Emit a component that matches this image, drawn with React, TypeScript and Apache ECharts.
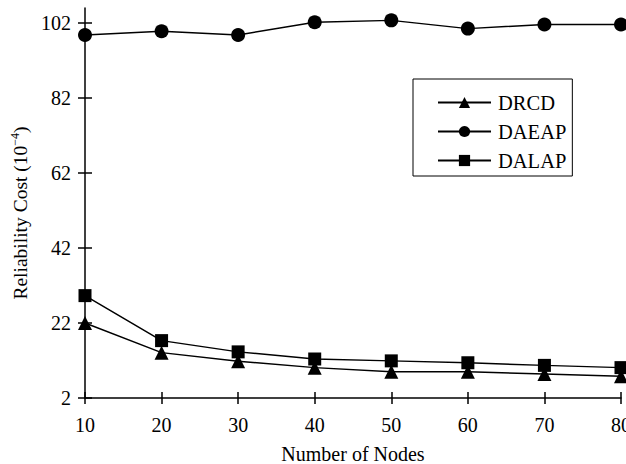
import React, { useEffect, useRef } from "react";
import * as echarts from "echarts";

const nodes = [10, 20, 30, 40, 50, 60, 70, 80];
const drcd = [22.0, 14.1, 11.8, 10.1, 9.0, 9.0, 8.4, 7.8];
const daeap = [98.8, 99.8, 98.8, 102.2, 102.7, 100.5, 101.6, 101.6];
const dalap = [29.3, 17.3, 14.3, 12.4, 11.9, 11.4, 10.7, 10.1];
const yTicks = [2, 22, 42, 62, 82, 102];

const FONT = '"Liberation Serif", "Times New Roman", serif';

export default function App() {
  const ref = useRef<HTMLDivElement>(null);
  useEffect(() => {
    if (!ref.current) return;
    const chart = echarts.init(ref.current, null, { renderer: "svg" });
    const pair = (arr: number[]) => nodes.map((n, i) => [n, arr[i]]);
    const mk = (name: string, data: number[], symbol: string, size: number) => ({
      name,
      type: "line",
      data: pair(data),
      symbol,
      symbolSize: size,
      xAxisIndex: 0,
      yAxisIndex: 0,
      lineStyle: { color: "#000", width: 1.5 },
      itemStyle: { color: "#000" },
    });
    chart.setOption({
      animation: false,
      backgroundColor: "#fff",
      textStyle: { fontFamily: FONT, color: "#000" },
      grid: { left: 85, right: 5, top: 8, bottom: 66, containLabel: false, outerBoundsMode: "none" },
      legend: {
        orient: "vertical",
        left: 413,
        top: 79,
        padding: [13, 6, 5, 24],
        itemGap: 8,
        itemWidth: 53,
        itemHeight: 14,
        borderColor: "#000",
        borderWidth: 1,
        textStyle: { fontFamily: FONT, fontSize: 20.5, lineHeight: 20, color: "#000", padding: [0, 0, 0, 2] },
        data: ["DRCD", "DAEAP", "DALAP"],
      },
      xAxis: [
        {
          type: "value",
          min: 10,
          max: 80,
          interval: 10,
          name: "Number of Nodes",
          nameLocation: "middle",
          nameGap: 46,
          nameTextStyle: { fontFamily: FONT, fontSize: 20, color: "#000" },
          axisLine: { onZero: false, lineStyle: { color: "#000", width: 1.5 } },
          axisTick: { show: true, inside: false, length: 6, lineStyle: { color: "#000", width: 1.5 } },
          axisLabel: { fontFamily: FONT, fontSize: 20, color: "#000", margin: 17 },
          splitLine: { show: false },
        },
        {
          type: "value",
          min: 10,
          max: 80,
          interval: 10,
          position: "bottom",
          axisLine: { show: false },
          axisTick: { show: true, inside: true, length: 6, lineStyle: { color: "#000", width: 1.5 } },
          axisLabel: { show: false },
          splitLine: { show: false },
        },
      ],
      yAxis: [
        {
          type: "value",
          min: 2,
          max: 106,
          name: "{a|Reliability Cost (10}{s|−4}{a|)}",
          nameLocation: "middle",
          nameGap: 52,
          nameTextStyle: {
            fontFamily: FONT,
            color: "#000",
            padding: [0, 20, 0, 0],
            rich: {
              a: { fontFamily: FONT, fontSize: 19.5, color: "#000" },
              s: { fontFamily: FONT, fontSize: 12, color: "#000", padding: [0, 0, 10, 0] },
            },
          },
          axisLine: { onZero: false, lineStyle: { color: "#000", width: 1.5 } },
          axisTick: { show: true, inside: false, length: 7, customValues: yTicks, lineStyle: { color: "#000", width: 1.5 } },
          axisLabel: { fontFamily: FONT, fontSize: 20, color: "#000", margin: 14, customValues: yTicks },
          splitLine: { show: false },
        },
        {
          type: "value",
          min: 2,
          max: 106,
          position: "left",
          axisLine: { show: false },
          axisTick: { show: true, inside: true, length: 7, customValues: yTicks, lineStyle: { color: "#000", width: 1.5 } },
          axisLabel: { show: false, customValues: yTicks },
          splitLine: { show: false },
        },
      ],
      series: [
        mk("DRCD", drcd, "triangle", 14),
        mk("DAEAP", daeap, "circle", 14),
        mk("DALAP", dalap, "rect", 13),
      ],
    });
    return () => chart.dispose();
  }, []);
  return <div ref={ref} style={{ width: 626, height: 464, position: "absolute", left: 0, top: 0 }} />;
}
